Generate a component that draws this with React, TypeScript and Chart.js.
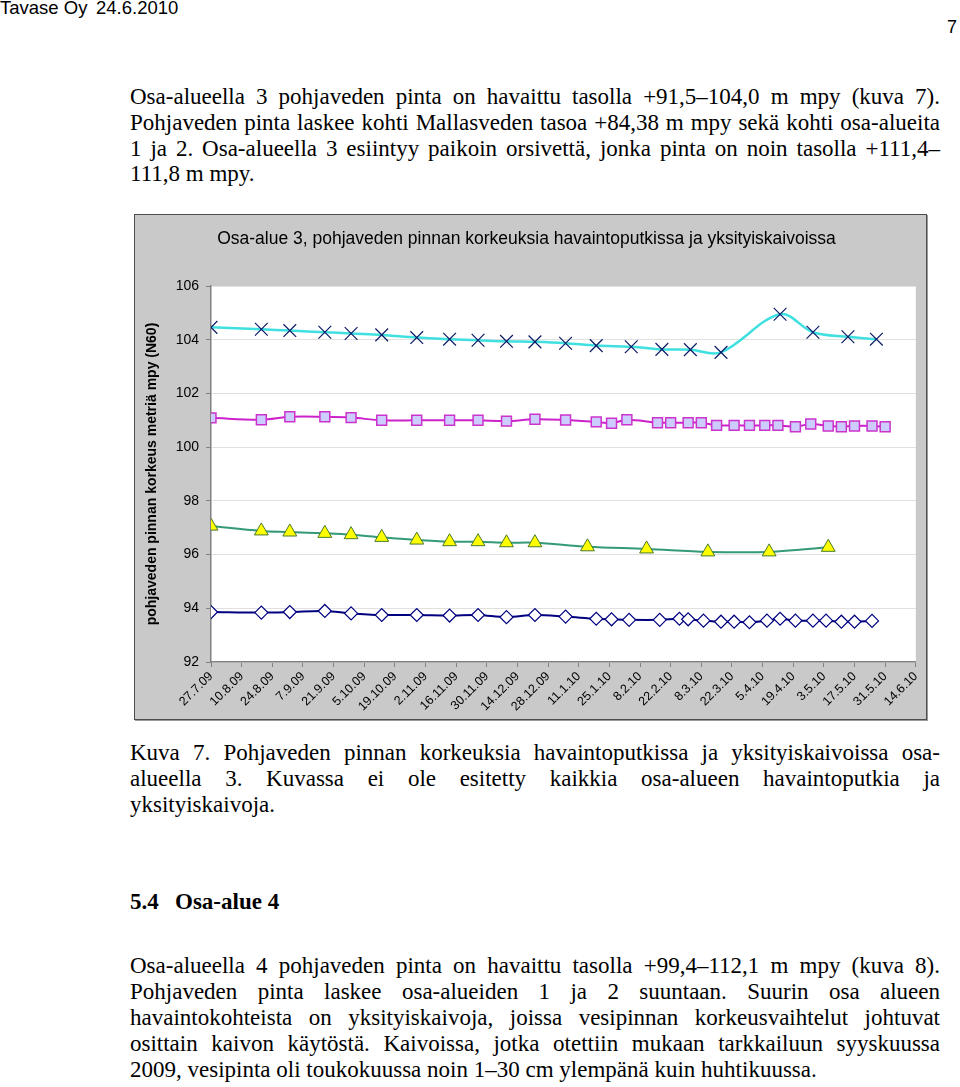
import React, { useEffect, useRef } from "react";
import { Chart, registerables } from "chart.js";

Chart.register(...registerables);

// ---------- DATA ----------
const BASE_DATE = "2009-07-27";
const AXIS_END_DAYS = 322;
const TICK_STEP_DAYS = 14;

const tickLabels = [
  "27.7.09", "10.8.09", "24.8.09", "7.9.09", "21.9.09", "5.10.09", "19.10.09",
  "2.11.09", "16.11.09", "30.11.09", "14.12.09", "28.12.09", "11.1.10", "25.1.10",
  "8.2.10", "22.2.10", "8.3.10", "22.3.10", "5.4.10", "19.4.10", "3.5.10",
  "17.5.10", "31.5.10", "14.6.10",
];

const yTicks = [92, 94, 96, 98, 100, 102, 104, 106];

const commonDates2009 = [
  "2009-07-27", "2009-08-19", "2009-09-01", "2009-09-17", "2009-09-29", "2009-10-13",
  "2009-10-29", "2009-11-13", "2009-11-26", "2009-12-09", "2009-12-22",
];

const cyanDates = [
  ...commonDates2009,
  "2010-01-05", "2010-01-19", "2010-02-04", "2010-02-18", "2010-03-03", "2010-03-17",
  "2010-04-13", "2010-04-28", "2010-05-14", "2010-05-27",
];
const cyanValues = [
  104.46, 104.39, 104.34, 104.28, 104.23, 104.18, 104.08, 104.02, 103.98, 103.94, 103.92,
  103.87, 103.78, 103.74, 103.64, 103.63, 103.53, 104.95, 104.28, 104.11, 104.02,
];

const magentaDates = [
  ...commonDates2009,
  "2010-01-05", "2010-01-19", "2010-01-26", "2010-02-02", "2010-02-16", "2010-02-22",
  "2010-03-02", "2010-03-08", "2010-03-15", "2010-03-23", "2010-03-30", "2010-04-06",
  "2010-04-12", "2010-04-20", "2010-04-27", "2010-05-05", "2010-05-11", "2010-05-17",
  "2010-05-25", "2010-05-31",
];
const magentaValues = [
  101.09, 101.02, 101.13, 101.13, 101.1, 101.0, 101.0, 101.0, 101.0, 100.97, 101.04,
  101.01, 100.94, 100.89, 101.02, 100.91, 100.91, 100.91, 100.91, 100.81, 100.81, 100.81,
  100.81, 100.81, 100.76, 100.86, 100.79, 100.76, 100.79, 100.79, 100.76,
];

const greenDates = [
  ...commonDates2009,
  "2010-01-15", "2010-02-11", "2010-03-11", "2010-04-08", "2010-05-05",
];
const greenValues = [
  97.06, 96.88, 96.84, 96.79, 96.74, 96.64, 96.54, 96.48, 96.48, 96.44, 96.44,
  96.29, 96.21, 96.1, 96.1, 96.27,
];

const navyDates = [
  ...commonDates2009,
  "2010-01-05", "2010-01-19", "2010-01-26", "2010-02-03", "2010-02-17", "2010-02-26",
  "2010-03-02", "2010-03-09", "2010-03-17", "2010-03-23", "2010-03-30", "2010-04-07",
  "2010-04-13", "2010-04-20", "2010-04-28", "2010-05-04", "2010-05-11", "2010-05-17",
  "2010-05-25",
];
const navyValues = [
  93.86, 93.84, 93.86, 93.9, 93.81, 93.75, 93.75, 93.73, 93.75, 93.67, 93.75,
  93.69, 93.61, 93.59, 93.57, 93.57, 93.61, 93.59, 93.54, 93.5, 93.5, 93.48,
  93.54, 93.61, 93.54, 93.54, 93.54, 93.5, 93.5, 93.53,
];

// ---------- HELPERS ----------
const DAY_MS = 86400000;
const dayOffset = (iso: string) =>
  Math.round((Date.parse(iso) - Date.parse(BASE_DATE)) / DAY_MS);
const toPoints = (dates: string[], values: number[]) =>
  dates.map((d, i) => ({ x: dayOffset(d), y: values[i] }));

const FONT_SANS = "'Liberation Sans', Arial, sans-serif";
const FONT_SERIF = "'Liberation Serif', 'Times New Roman', serif";

function ChartBox() {
  const ref = useRef<HTMLCanvasElement | null>(null);
  useEffect(() => {
    if (!ref.current) return;
    const whiteArea = {
      id: "whiteArea",
      beforeDraw(chart: any) {
        const { ctx, chartArea } = chart;
        ctx.save();
        ctx.fillStyle = "#ffffff";
        ctx.fillRect(chartArea.left, chartArea.top, chartArea.right - chartArea.left, chartArea.bottom - chartArea.top);
        ctx.restore();
      },
    };
    const chart = new Chart(ref.current, {
      type: "line",
      data: {
        datasets: [
          {
            label: "A",
            data: toPoints(cyanDates, cyanValues),
            borderColor: "#40e0e0",
            borderWidth: 2.5,
            pointStyle: "crossRot",
            pointRadius: 9,
            pointBorderColor: "#0b1a66",
            pointBorderWidth: 1.2,
            pointBackgroundColor: "#0b1a66",
            tension: 0.35,
          },
          {
            label: "B",
            data: toPoints(magentaDates, magentaValues),
            borderColor: "#cc22cc",
            borderWidth: 2,
            pointStyle: "rect",
            pointRadius: 7,
            pointBorderColor: "#cc33cc",
            pointBorderWidth: 1.5,
            pointBackgroundColor: "#ccccff",
            tension: 0.35,
          },
          {
            label: "C",
            data: toPoints(greenDates, greenValues),
            borderColor: "#339977",
            borderWidth: 2,
            pointStyle: "triangle",
            pointRadius: 8,
            pointBorderColor: "#4a7a2a",
            pointBorderWidth: 1,
            pointBackgroundColor: "#ffff00",
            tension: 0.35,
          },
          {
            label: "D",
            data: toPoints(navyDates, navyValues),
            borderColor: "#000080",
            borderWidth: 2,
            pointStyle: "rectRot",
            pointRadius: 6.5,
            pointBorderColor: "#000080",
            pointBorderWidth: 1.2,
            pointBackgroundColor: "#ffffff",
            tension: 0.35,
          },
        ],
      },
      options: {
        animation: false,
        responsive: false,
        events: [],
        layout: { padding: { top: 0, right: 8, bottom: 0, left: 0 } },
        plugins: {
          legend: { display: false },
          tooltip: { enabled: false },
          title: {
            display: true,
            text: "Osa-alue 3, pohjaveden pinnan korkeuksia havaintoputkissa ja yksityiskaivoissa",
            color: "#000",
            font: { family: FONT_SANS, size: 17.5, weight: "normal" },
            padding: { top: 14, bottom: 36 },
          },
        },
        scales: {
          x: {
            type: "linear",
            min: 0,
            max: AXIS_END_DAYS,
            afterBuildTicks: (s: any) => {
              s.ticks = tickLabels.map((_, i) => ({ value: i * TICK_STEP_DAYS }));
            },
            ticks: {
              autoSkip: false,
              minRotation: 45,
              maxRotation: 45,
              color: "#000",
              padding: 2,
              font: { family: FONT_SANS, size: 12.5 },
              callback: (v: any) => tickLabels[Math.round(Number(v) / TICK_STEP_DAYS)],
            },
            grid: { drawOnChartArea: false, drawTicks: true, tickLength: 5, tickColor: "#808080" },
            border: { color: "#808080", width: 1.5 },
            afterFit: (s: any) => {
              s.height = 57;
              s.paddingLeft = 0;
              s.paddingRight = 0;
            },
          },
          y: {
            min: 92,
            max: 106,
            afterBuildTicks: (s: any) => {
              s.ticks = yTicks.map((v) => ({ value: v }));
            },
            ticks: { color: "#000", padding: 7, font: { family: FONT_SANS, size: 14 } },
            grid: { color: "#e0e0e0", lineWidth: 1, tickLength: 5, tickColor: "#808080" },
            border: { color: "#808080", width: 1.5 },
            title: {
              display: true,
              text: "pohjaveden pinnan korkeus metriä mpy (N60)",
              color: "#000",
              font: { family: FONT_SANS, size: 14, weight: "bold" },
              padding: { top: 9, bottom: 4 },
            },
            afterFit: (s: any) => {
              s.width = 76;
            },
          },
        },
      },
      plugins: [whiteArea],
    } as any);
    return () => chart.destroy();
  }, []);
  return (
    <div
      style={{
        position: "absolute",
        left: 134,
        top: 214,
        width: 791,
        height: 504,
        border: "1px solid #4d4d4d",
        background: "#c9c9c9",
        boxShadow: "1px 1px 0 #9a9a9a",
      }}
    >
      <canvas ref={ref} width={791} height={504} style={{ display: "block", width: 791, height: 504 }} />
    </div>
  );
}

function TextLine(props: { top: number; text: string; justify?: boolean; left?: number; width?: number }) {
  const { top, text, justify = true, left = 130, width = 810 } = props;
  return (
    <div
      style={{
        position: "absolute",
        top,
        left,
        width,
        fontFamily: FONT_SERIF,
        fontSize: 23,
        lineHeight: "26px",
        color: "#000",
        textAlign: justify ? "justify" : "left",
        textAlignLast: justify ? "justify" : "left",
      } as any}
    >
      {text}
    </div>
  );
}

const para1 = [
  "Osa-alueella 3 pohjaveden pinta on havaittu tasolla +91,5–104,0 m mpy (kuva 7).",
  "Pohjaveden pinta laskee kohti Mallasveden tasoa +84,38 m mpy sekä kohti osa-alueita",
  "1 ja 2. Osa-alueella 3 esiintyy paikoin orsivettä, jonka pinta on noin tasolla +111,4–",
  "111,8 m mpy.",
];
const caption = [
  "Kuva 7.  Pohjaveden pinnan korkeuksia havaintoputkissa ja yksityiskaivoissa osa-",
  "alueella 3. Kuvassa ei ole esitetty kaikkia osa-alueen havaintoputkia ja",
  "yksityiskaivoja.",
];
const para2 = [
  "Osa-alueella 4 pohjaveden pinta on havaittu tasolla +99,4–112,1 m mpy (kuva 8).",
  "Pohjaveden pinta laskee osa-alueiden 1 ja 2 suuntaan. Suurin osa alueen",
  "havaintokohteista on yksityiskaivoja, joissa vesipinnan korkeusvaihtelut johtuvat",
  "osittain kaivon käytöstä. Kaivoissa, jotka otettiin mukaan tarkkailuun syyskuussa",
  "2009, vesipinta oli toukokuussa noin 1–30 cm ylempänä kuin huhtikuussa.",
];

const headerFont = "'Liberation Sans', Arial, sans-serif";

export default function App() {
  return (
    <div style={{ position: "absolute", left: 0, top: 0, width: 960, height: 1087, background: "#fff", overflow: "hidden" }}>
      <div style={{ position: "absolute", left: 0, top: -3, fontFamily: headerFont, fontSize: 18.5, color: "#000" }}>
        Tavase Oy
      </div>
      <div style={{ position: "absolute", left: 96, top: -3, fontFamily: headerFont, fontSize: 18.5, color: "#000" }}>
        24.6.2010
      </div>
      <div style={{ position: "absolute", left: 947, top: 17, fontFamily: headerFont, fontSize: 18, color: "#000" }}>
        7
      </div>
      {para1.map((t, i) => (
        <TextLine key={"p1" + i} top={84 + i * 25.8} text={t} justify={i < para1.length - 1} />
      ))}
      <ChartBox />
      {caption.map((t, i) => (
        <TextLine key={"c" + i} top={740 + i * 26} text={t} justify={i < caption.length - 1} />
      ))}
      <div style={{ position: "absolute", left: 130, top: 889, fontFamily: FONT_SERIF, fontSize: 23, fontWeight: "bold", lineHeight: "26px" }}>5.4</div>
      <div style={{ position: "absolute", left: 175, top: 889, fontFamily: FONT_SERIF, fontSize: 23, fontWeight: "bold", lineHeight: "26px" }}>Osa-alue 4</div>
      {para2.map((t, i) => (
        <TextLine key={"p2" + i} top={953 + i * 26} text={t} justify={i < para2.length - 1} />
      ))}
    </div>
  );
}
